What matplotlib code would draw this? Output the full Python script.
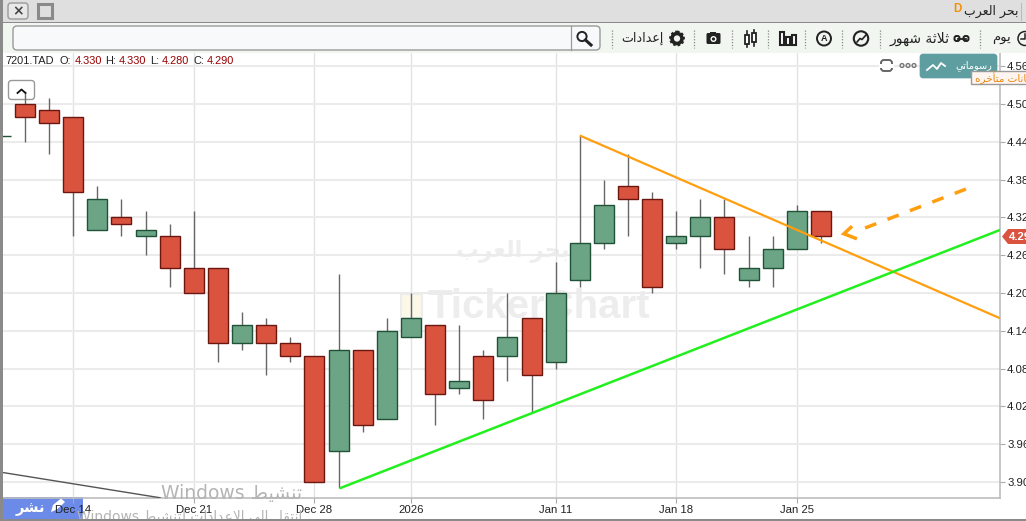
import re, unicodedata
import matplotlib
matplotlib.use("Agg")
import matplotlib.pyplot as plt
from matplotlib.patches import Rectangle, FancyBboxPatch, Circle, Polygon

# ---------- data ----------
candle_index = list(range(-1, 34))
opens  = [4.45,4.50,4.49,4.48,4.30,4.32,4.29,4.29,4.24,4.24,4.12,4.15,4.12,4.10,3.95,4.11,4.00,4.13,4.15,4.05,4.10,4.10,4.16,4.09,4.22,4.28,4.37,4.35,4.28,4.29,4.32,4.22,4.24,4.27,4.33]
highs  = [4.45,4.52,4.51,4.48,4.37,4.35,4.33,4.31,4.33,4.24,4.17,4.16,4.13,4.10,4.23,4.11,4.16,4.20,4.15,4.15,4.11,4.20,4.16,4.25,4.45,4.38,4.42,4.36,4.33,4.35,4.35,4.29,4.29,4.34,4.33]
lows   = [4.45,4.44,4.42,4.29,4.30,4.29,4.26,4.21,4.20,4.09,4.11,4.07,4.09,3.90,3.89,3.98,4.00,4.13,3.99,4.04,4.00,4.06,4.01,4.08,4.21,4.27,4.29,4.20,4.27,4.24,4.23,4.21,4.21,4.27,4.28]
closes = [4.45,4.48,4.47,4.36,4.35,4.31,4.30,4.24,4.20,4.12,4.15,4.12,4.10,3.90,4.11,3.99,4.14,4.16,4.04,4.06,4.03,4.13,4.07,4.20,4.28,4.34,4.35,4.21,4.29,4.32,4.27,4.24,4.27,4.33,4.29]

y_ticks = [4.56,4.50,4.44,4.38,4.32,4.26,4.20,4.14,4.08,4.02,3.96,3.90]
x_tick_pos = [2,7,12,16,22,27,32]
x_tick_labels = ["Dec 14","Dec 21","Dec 28","2026","Jan 11","Jan 18","Jan 25"]

orange_x, orange_y = [23, 40.42], [4.45, 4.16]
green_x, green_y = [13.05, 40.42], [3.89, 4.30]
gray_x, gray_y = [-0.91, 5.6], [3.915, 3.875]
dash_x, dash_y = [39.01, 34.75], [4.365, 4.302]
head_x, head_y = [34.29, 33.95, 34.49], [4.306, 4.294, 4.286]

# ---------- arabic shaping (matplotlib has no bidi) ----------
NONJOIN = set("اأإدذرزوةى")
def forms(s):
    out = []
    i = 0
    chars = list(s)
    n = len(chars)
    def arab(c): return '\u0621' <= c <= '\u064a'
    while i < n:
        c = chars[i]
        if not arab(c):
            out.append(c); i += 1; continue
        prev_j = i > 0 and arab(chars[i-1]) and chars[i-1] not in NONJOIN
        if c == 'ل' and i+1 < n and chars[i+1] in 'اأإ':
            m = {'ا':'ALEF','أ':'ALEF WITH HAMZA ABOVE','إ':'ALEF WITH HAMZA BELOW'}[chars[i+1]]
            out.append(unicodedata.lookup(f"ARABIC LIGATURE LAM WITH {m} {'FINAL' if prev_j else 'ISOLATED'} FORM"))
            i += 2; continue
        next_j = c not in NONJOIN and i+1 < n and arab(chars[i+1])
        form = {(0,0):'ISOLATED',(1,0):'FINAL',(0,1):'INITIAL',(1,1):'MEDIAL'}[(int(prev_j),int(next_j))]
        out.append(unicodedata.lookup(f"{unicodedata.name(c)} {form} FORM"))
        i += 1
    return ''.join(out)
def ar(s):
    runs = re.findall(r'[A-Za-z0-9.]+|[^A-Za-z0-9.]+', s)
    res = []
    for r in runs[::-1]:
        res.append(r if re.match(r'[A-Za-z0-9.]', r) else forms(r)[::-1])
    return ''.join(res)

# ---------- figure ----------
W, H = 1026, 521
fig = plt.figure(figsize=(W/100, H/100), dpi=100, facecolor="white")
def overlay(z):
    a = fig.add_axes([0,0,1,1], zorder=z)
    a.set_xlim(0,W); a.set_ylim(H,0); a.axis("off"); a.patch.set_alpha(0)
    return a
under = overlay(0)
top = overlay(5)

L, R, T, B = 3, 1000, 53, 498
ax = fig.add_axes([L/W, 1-B/H, (R-L)/W, (B-T)/H], zorder=2)
ax.patch.set_alpha(0)
px_x, x0 = 24.12, 25.0
ax.set_xlim((L-x0)/px_x, (R-x0)/px_x)
py = 630.0
ax.set_ylim(4.50-(B-104)/py, 4.50-(T-104)/py)
for s in ("left","top"): ax.spines[s].set_visible(False)
for s in ("right","bottom"):
    ax.spines[s].set_color("#BDBDBD"); ax.spines[s].set_linewidth(1.2)
ax.yaxis.tick_right()
ax.set_yticks(y_ticks); ax.set_yticklabels([f"{v:.2f}" for v in y_ticks])
ax.set_xticks(x_tick_pos); ax.set_xticklabels(x_tick_labels)
ax.tick_params(axis="both", length=3.6, width=0.8, color="#AAAAAA", labelcolor="#222222", labelsize=8.2, pad=1.5)
for t in ax.get_xticklabels()+ax.get_yticklabels(): t.set_family("Liberation Sans")
ax.grid(True, axis="y", color="#EBEBEB", lw=1.5, zorder=0)
ax.grid(True, axis="x", color="#E2E2E2", lw=1.0, zorder=0)
ax.set_axisbelow(True)

GREEN, GREEN_E, RED, RED_E = "#6BA585", "#1F5236", "#D9533F", "#6B1710"
ax.vlines(candle_index, lows, highs, color="#666666", lw=1.0, zorder=2)
bott = [min(o,c) for o,c in zip(opens,closes)]
hts = [abs(o-c) for o,c in zip(opens,closes)]
fc = [GREEN if c>=o else RED for o,c in zip(opens,closes)]
ec = [GREEN_E if c>=o else RED_E for o,c in zip(opens,closes)]
ax.bar(candle_index, hts, bottom=bott, width=20/px_x, color=fc, edgecolor=ec, lw=1.0, zorder=3)

ax.plot(orange_x, orange_y, color="#FF9F0F", lw=1.6, zorder=4, solid_capstyle="butt")
ax.plot(green_x, green_y, color="#22F01E", lw=1.8, zorder=4, solid_capstyle="butt")
ax.plot(gray_x, gray_y, color="#555555", lw=1.0, zorder=4)
ax.plot(dash_x, dash_y, color="#FF9F0F", lw=2.5, zorder=4, dashes=(3.46,3.46), dash_capstyle="butt")
ax.plot(head_x, head_y, color="#FF9F0F", lw=2.5, zorder=4, solid_capstyle="butt", solid_joinstyle="miter")

# watermarks
under.text(513, 250, ar("بحر العرب"), family="DejaVu Sans", fontsize=16.5, color="#EEEEEE", ha="center", va="center", fontweight="bold")
under.text(428, 307, "TickerChart", family="Liberation Sans", fontsize=29, color="#EDEDED", ha="left", va="center", fontweight="bold")
under.add_patch(Rectangle((401,294),21,24,fc="#FBF8E8",ec="#EDEDED",lw=1.5))

# publish button (below the axis labels)
under.add_patch(Rectangle((3,497),80,22,fc="#6C8AE8",ec="none",zorder=3))
under.add_patch(Polygon([(51,512),(53,505),(61,498.5),(65,502),(57,509.5)],fc="white",ec="none",zorder=4))
under.text(30,508,ar("نشر"),family="DejaVu Sans",fontsize=10.5,fontweight="bold",color="white",ha="center",va="center",zorder=4)

# ---------- chrome ----------
def rbox(a,x0,y0,x1,y1,fc,ec,lw=1,r=3,z=3):
    a.add_patch(FancyBboxPatch((x0+r,y0+r),x1-x0-2*r,y1-y0-2*r,boxstyle=f"round,pad={r},rounding_size={r}",fc=fc,ec=ec,lw=lw,zorder=z))
top.add_patch(Rectangle((0,0),W,22,fc="#DFDFDF",ec="none"))
top.add_patch(Rectangle((0,22),W,1.2,fc="#8A8A8A",ec="none"))
top.add_patch(Rectangle((0,23),W,30,fc="#F1F6F0",ec="none"))
top.add_patch(Rectangle((0,0),3,H,fc="#8A8A8A",ec="none",zorder=6))
top.add_patch(Rectangle((0,519),W,2,fc="#8A8A8A",ec="none",zorder=6))
rbox(top,8,3,28,19,"#E8E8E8","#9A9A9A",1)
top.text(18.5,11,"×",ha="center",va="center",fontsize=10,fontweight="bold",color="#444444",zorder=4)
top.add_patch(Rectangle((37.5,4),14,14,fc="none",ec="#8A8A8A",lw=2.2,zorder=4))
rbox(top,13,26,600,50,"#F8F9FA","#9A9A9A",1,r=4)
top.plot([571,571],[26,50],color="#9A9A9A",lw=0.9,zorder=4)
top.add_patch(Circle((582,36.5),4.6,fc="none",ec="#222222",lw=1.4,zorder=4))
top.plot([585.5,591],[40,45],color="#222222",lw=2.2,zorder=4)

uif = ["DejaVu Sans"]
top.text(1018,11,ar("بحر العرب"),family=uif,fontsize=9,color="#222222",ha="right",va="center",zorder=4)
top.text(957,9,"D",family="Liberation Sans",fontsize=8.4,fontweight="bold",color="#F0920A",ha="center",va="center",zorder=4)
top.plot([1021,1021],[3,20],color="#BBBBBB",lw=0.8,zorder=4)
for x in (612,694,732,768,805,842,880,980):
    top.plot([x,x],[30,48],color="#888888",lw=0.9,ls=(0,(1,1.3)),zorder=4)
tb = "#222222"
top.text(664,38.5,ar("إعدادات"),family=uif,fontsize=9.1,color=tb,ha="right",va="center",zorder=4)
top.text(950,38.5,ar("ثلاثة شهور"),family=uif,fontsize=10,color=tb,ha="right",va="center",zorder=4)
top.text(1011,38.5,ar("يوم"),family=uif,fontsize=9.5,color=tb,ha="right",va="center",zorder=4)
# gear
top.add_patch(Circle((677,38.5),5,fc="none",ec=tb,lw=2.6,zorder=4))
top.add_patch(Circle((677,38.5),7,fc="none",ec=tb,lw=1.3,ls=(0,(1.4,1.2)),zorder=4))
# camera
top.add_patch(FancyBboxPatch((707,33.5),13,10,boxstyle="round,pad=0.5,rounding_size=1.5",fc=tb,ec="none",zorder=4))
top.add_patch(Rectangle((710,31.5),6,3,fc=tb,ec="none",zorder=4))
top.add_patch(Circle((713.5,39),3,fc="white",ec="none",zorder=5))
top.add_patch(Circle((713.5,39),1.6,fc=tb,ec="none",zorder=5))
# candle icon
for x,y0,y1,w0,w1 in ((747,35,44,31,47),(754,33,42,30,46)):
    top.plot([x,x],[w0,w1],color=tb,lw=1.2,zorder=4)
    top.add_patch(Rectangle((x-2.2,y0),4.4,y1-y0,fc="white",ec=tb,lw=1.3,zorder=5))
# bar icon
for x,y0,w in ((780,32,4),(786,37,4),(792,35,4)):
    top.add_patch(Rectangle((x,y0),w,45-y0,fc="white",ec=tb,lw=1.5,zorder=4))
# A circle
top.add_patch(Circle((824,38.5),7,fc="none",ec=tb,lw=1.4,zorder=4))
top.text(824,38.7,"A",family="Liberation Sans",fontsize=6.5,fontweight="bold",color=tb,ha="center",va="center",zorder=4)
# gauge circle
top.add_patch(Circle((861,38.5),7.2,fc="none",ec=tb,lw=1.5,zorder=4))
top.plot([857,860,862,866],[42,38.5,39.5,35],color=tb,lw=1.2,zorder=4)
# link icon
top.add_patch(FancyBboxPatch((955,36.5),4,4,boxstyle="round,pad=0.5,rounding_size=2",fc="none",ec=tb,lw=1.4,zorder=4))
top.add_patch(FancyBboxPatch((964,36.5),4,4,boxstyle="round,pad=0.5,rounding_size=2",fc="none",ec=tb,lw=1.4,zorder=4))
top.plot([958,966],[38.5,38.5],color=tb,lw=1.3,zorder=4)
# clock
top.add_patch(Circle((1025,38.5),7,fc="none",ec=tb,lw=1.1,zorder=4))
top.plot([1025,1025,1021],[33.5,38.5,38.5],color=tb,lw=1.1,zorder=4)

# OHLC line
top.text(5,61,"7201.TAD",family="Liberation Sans",fontsize=7.9,color="#222222",va="center",zorder=4)
for x,s,c in ((60,"O:","#222222"),(75,"4.330","#990000"),(105,"H:","#222222"),(119,"4.330","#990000"),
              (150,"L:","#222222"),(162,"4.280","#990000"),(193,"C:","#222222"),(207,"4.290","#990000")):
    top.text(x,61,s,family="Liberation Sans",fontsize=7.9,color=c,va="center",zorder=4)

# collapse button
rbox(top,8.5,80.5,34.5,99.5,"white","#999999",1,r=3)
top.plot([25,25],[92,99],color="#666666",lw=1.0,zorder=4)
top.plot([17.5,21.5,25.5],[93,89.5,93],color="#111111",lw=1.3,zorder=5)

# teal button
rbox(top,920,54,997,78,"#5F9EA0","#5F9EA0",0.5,r=3)
top.plot([927,933,937,941,945],[70,65,69,63,66],color="white",lw=1.3,zorder=4)
top.text(992,65.5,ar("رسوماتي"),family=uif,fontsize=7,color="white",ha="right",va="center",zorder=4)
for x in (902,908,914):
    top.add_patch(Circle((x,65.5),1.9,fc="none",ec="#777777",lw=1,zorder=4))
rbox(top,881,60,892,71,"none","#666666",1.4,r=3)
top.add_patch(Rectangle((879,63.5),15,4,fc="white",ec="none",zorder=4))
# tooltip
top.add_patch(Rectangle((971,71),60,13,fc="#FFF5F0",ec="#999999",lw=1,zorder=6))
top.text(975,77.5,ar("بيانات متأخره"),family=uif,fontsize=7.5,color="#E8870F",ha="left",va="center",zorder=7)

# last price tag
top.add_patch(Polygon([(1002,236.5),(1008,229),(1030,229),(1030,244),(1008,244)],fc="#D9533F",ec="none",zorder=4))
top.text(1009,236.5,"4.29",family="Liberation Sans",fontsize=8.2,fontweight="bold",color="white",va="center",zorder=5)

# windows activation
top.text(302,494,ar("تنشيط Windows"),family=uif,fontsize=13.5,color="#B4B4B4",ha="right",va="center",zorder=6)
top.text(302,517,ar("انتقل الى الاعدادات لتنشيط Windows"),family=uif,fontsize=10,color="#B4B4B4",ha="right",va="center",zorder=5)

fig.savefig("out.png", dpi=100)
